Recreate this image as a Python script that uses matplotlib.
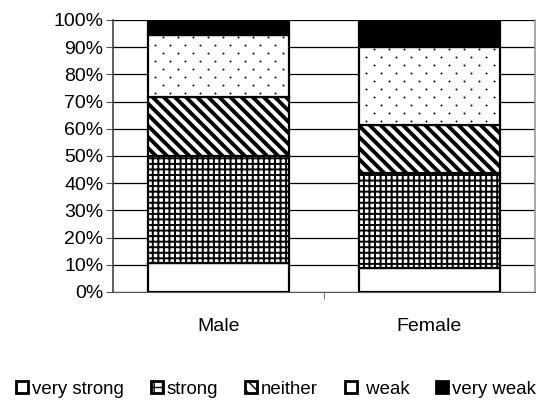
import matplotlib.pyplot as plt
import numpy as np
from matplotlib.patches import Patch
from matplotlib.ticker import FuncFormatter

plt.rcParams['font.family'] = ['Liberation Sans', 'DejaVu Sans']

groups = ['Male', 'Female']
series = ['very strong', 'strong', 'neither', ' weak', 'very weak']
very_strong = [10.8, 8.9]
strong = [39.2, 35.0]
neither = [21.6, 17.4]
weak = [23.0, 28.7]
very_weak = [5.4, 10.0]

values = [very_strong, strong, neither, weak, very_weak]
hatches = ['', '+++', '\\\\\\', '', '']
hatch_lw = [1.0, 1.4, 2.8, 1.0, 1.0]
faces = ['white', 'white', 'white', 'white', 'black']

fig = plt.figure(figsize=(5.41, 4.0), dpi=100)
ax = fig.add_axes([113 / 541, 1 - 292 / 400, 422 / 541, 272 / 400])

x = np.arange(len(groups))
bw = 0.67
bottom = np.zeros(len(groups))
for k, (vals, h, fc, hl) in enumerate(zip(values, hatches, faces, hatch_lw)):
    with plt.rc_context({'hatch.linewidth': hl}):
        bars = ax.bar(x, vals, width=bw, bottom=bottom, color=fc, edgecolor='black',
                      hatch=h, linewidth=1.6, zorder=3)
    if k == 3:
        # small dot pattern, clipped to each bar
        for b, x0, b0, v in zip(bars, x, bottom, vals):
            dx = 15 / 211
            dy = 8 * 100 / 272
            pts = []
            row = 0
            yy = b0 + dy / 2
            while yy < b0 + v:
                off = dx / 2 if row % 2 else 0
                xx = x0 - bw / 2 + dx / 2 + off
                while xx < x0 + bw / 2:
                    pts.append((xx, yy))
                    xx += dx
                yy += dy
                row += 1
            pts = np.array(pts)
            sc = ax.scatter(pts[:, 0], pts[:, 1], s=2, color='black', zorder=4,
                            linewidths=0)
            sc.set_clip_path(b)
    bottom += np.array(vals)

ax.set_xlim(-0.5, 1.5)
ax.set_ylim(0, 100)
ax.set_yticks(np.arange(0, 101, 10))
ax.yaxis.set_major_formatter(FuncFormatter(lambda v, p: f'{int(v)}%'))
ax.set_xticks(x)
ax.set_xticklabels(groups)
ax.set_xticks([0.5], minor=True)
ax.tick_params(axis='x', which='major', length=0, pad=19, labelsize=14)
ax.tick_params(axis='x', which='minor', length=5, direction='out', color='#555555')
ax.tick_params(axis='y', length=5, direction='out', labelsize=14, pad=2, color='#555555')
ax.grid(axis='y', color='black', linewidth=0.9, zorder=0)
ax.set_axisbelow(True)
ax.spines['top'].set_visible(False)
ax.spines['left'].set_color('#444444')
ax.spines['right'].set_color('#999999')
ax.spines['bottom'].set_color('#555555')
ax.spines['left'].set_linewidth(1.2)
ax.spines['right'].set_linewidth(1.2)

leg_hatch = ['', '++', '\\\\\\', '', '']
handles = []
for h, fc in zip(leg_hatch, faces):
    with plt.rc_context({'hatch.linewidth': 2.5}):
        handles.append(Patch(facecolor=fc, edgecolor='black', hatch=h, linewidth=2.0))
fig.legend(handles, series, loc='center', bbox_to_anchor=(0.51, 1 - 389 / 400),
           ncol=5, frameon=False, fontsize=13.4, handlelength=0.65, handleheight=0.65,
           handletextpad=0.2, columnspacing=1.45, borderaxespad=0, borderpad=0)

fig.savefig('out.png', dpi=100)
